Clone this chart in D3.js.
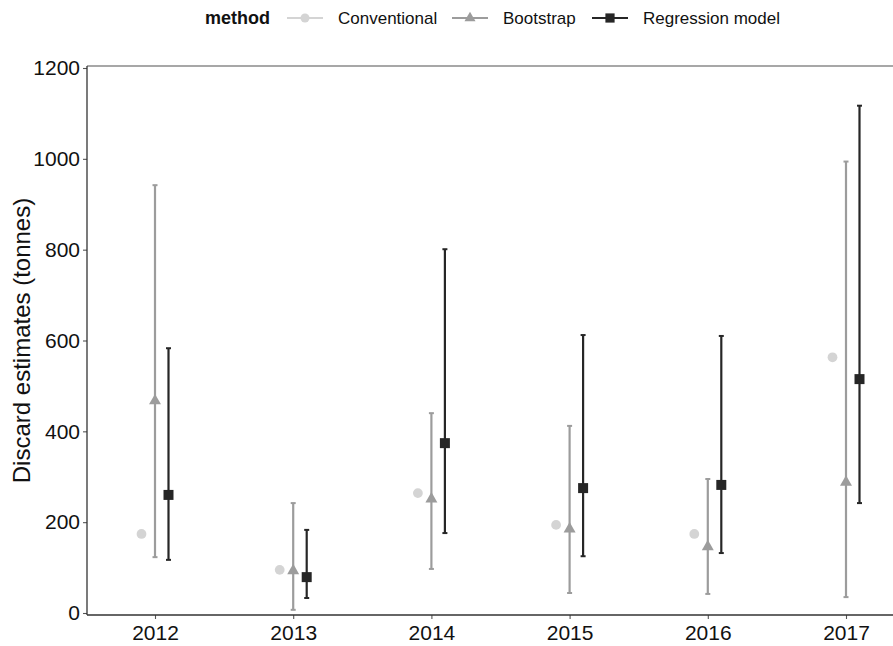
<!DOCTYPE html>
<html>
<head>
<meta charset="utf-8">
<script src="https://cdn.jsdelivr.net/npm/d3@7"></script>
<style>
  body { margin: 0; background: #fff; }
  svg { font-family: "Liberation Sans", Arial, sans-serif; }
</style>
</head>
<body>
<svg width="893" height="646"></svg>
<script>
"use strict";

// data
var years = ["2012", "2013", "2014", "2015", "2016", "2017"];
var methods = ["Conventional", "Bootstrap", "Regression model"];

var conventional = [174, 95, 264, 194, 174, 563];

var bootstrap = [467, 93, 251, 185, 146, 288];
var bootstrapLow = [123, 7, 97, 44, 42, 35];
var bootstrapHigh = [942, 242, 440, 412, 295, 994];

var regression = [260, 79, 374, 275, 282, 515];
var regressionLow = [117, 33, 176, 125, 132, 242];
var regressionHigh = [583, 183, 801, 612, 610, 1117];

var yTicks = [0, 200, 400, 600, 800, 1000, 1200];

var colours = { "Conventional": "#d4d4d4", "Bootstrap": "#9c9c9c", "Regression model": "#262626" };
var shapes = { "Conventional": d3.symbolCircle, "Bootstrap": d3.symbolTriangle, "Regression model": d3.symbolSquare };
var sizes = { "Conventional": 75, "Bootstrap": 62, "Regression model": 100 };

var svg = d3.select("svg"),
    panel = { left: 87, right: 900, top: 66, bottom: 615 };

var x = d3.scalePoint().domain(years).range([155, 846]);
var dodge = d3.scalePoint().domain(methods).range([-13.5, 13.5]);
var y = d3.scaleLinear().domain([0, 1200]).range([613, 68]);

var rows = [];
years.forEach(function(yr, i) {
  rows.push({ year: yr, method: "Conventional", value: conventional[i], low: null, high: null });
  rows.push({ year: yr, method: "Bootstrap", value: bootstrap[i], low: bootstrapLow[i], high: bootstrapHigh[i] });
  rows.push({ year: yr, method: "Regression model", value: regression[i], low: regressionLow[i], high: regressionHigh[i] });
});

// panel frame: grey border on top, dark axis lines left and bottom
svg.append("line")
    .attr("x1", panel.left).attr("x2", panel.right)
    .attr("y1", panel.top).attr("y2", panel.top)
    .attr("stroke", "#8a8a8a").attr("stroke-width", 1.3);

// axes
var yAxis = svg.append("g")
    .attr("transform", "translate(" + panel.left + ",0)")
    .call(d3.axisLeft(y).tickValues(yTicks).tickFormat(d3.format("d")).tickSize(4).tickPadding(3));
yAxis.select(".domain").remove();
yAxis.append("line")
    .attr("y1", panel.top).attr("y2", panel.bottom)
    .attr("stroke", "#333").attr("stroke-width", 1.3);

var xAxis = svg.append("g")
    .attr("transform", "translate(0," + panel.bottom + ")")
    .call(d3.axisBottom(x).tickSize(4).tickPadding(6));
xAxis.select(".domain").remove();
xAxis.append("line")
    .attr("x1", panel.left).attr("x2", panel.right)
    .attr("stroke", "#333").attr("stroke-width", 1.6);

svg.selectAll(".tick line").attr("stroke", "#555").attr("stroke-width", 1.1);
svg.selectAll(".tick text")
    .attr("fill", "#111")
    .style("font-size", "21px");

svg.append("text")
    .attr("transform", "translate(30," + (panel.top + panel.bottom) / 2 + ") rotate(-90)")
    .attr("text-anchor", "middle")
    .attr("fill", "#111")
    .style("font-size", "24px")
    .text("Discard estimates (tonnes)");

// error bars
var bars = svg.append("g").attr("class", "errorbars")
    .selectAll("g")
    .data(rows.filter(function(d) { return d.low !== null; }))
    .enter().append("g")
    .attr("stroke", function(d) { return colours[d.method]; });

bars.append("line")
    .attr("x1", function(d) { return x(d.year) + dodge(d.method); })
    .attr("x2", function(d) { return x(d.year) + dodge(d.method); })
    .attr("y1", function(d) { return y(d.low); })
    .attr("y2", function(d) { return y(d.high); })
    .attr("stroke-width", 2.2);

bars.selectAll("line.cap")
    .data(function(d) { return [[d, d.low], [d, d.high]]; })
    .enter().append("line")
    .attr("class", "cap")
    .attr("x1", function(c) { return x(c[0].year) + dodge(c[0].method) - 2.5; })
    .attr("x2", function(c) { return x(c[0].year) + dodge(c[0].method) + 2.5; })
    .attr("y1", function(c) { return y(c[1]); })
    .attr("y2", function(c) { return y(c[1]); })
    .attr("stroke-width", 2);

// points
svg.append("g").attr("class", "points")
    .selectAll("path")
    .data(rows)
    .enter().append("path")
    .attr("transform", function(d) {
        return "translate(" + (x(d.year) + dodge(d.method)) + "," + y(d.value) + ")";
    })
    .attr("d", function(d) { return d3.symbol().type(shapes[d.method]).size(sizes[d.method])(); })
    .attr("fill", function(d) { return colours[d.method]; });

// legend
var legend = svg.append("g").attr("class", "legend");
legend.append("text")
    .attr("x", 205).attr("y", 24)
    .style("font-size", "18px").style("font-weight", "bold")
    .attr("fill", "#111")
    .text("method");

var keyX = [287, 452, 592];
var items = legend.selectAll("g.item")
    .data(methods)
    .enter().append("g").attr("class", "item")
    .attr("transform", function(d, i) { return "translate(" + keyX[i] + ",18)"; });

items.append("line")
    .attr("x1", 0).attr("x2", 36)
    .attr("stroke", function(d) { return colours[d]; })
    .attr("stroke-width", 2.2);
items.append("path")
    .attr("transform", "translate(18,0)")
    .attr("d", function(d) { return d3.symbol().type(shapes[d]).size(sizes[d] * 0.85)(); })
    .attr("fill", function(d) { return colours[d]; });
items.append("text")
    .attr("x", 51).attr("y", 6)
    .style("font-size", "17px")
    .attr("fill", "#111")
    .text(function(d) { return d; });
</script>
</body>
</html>
